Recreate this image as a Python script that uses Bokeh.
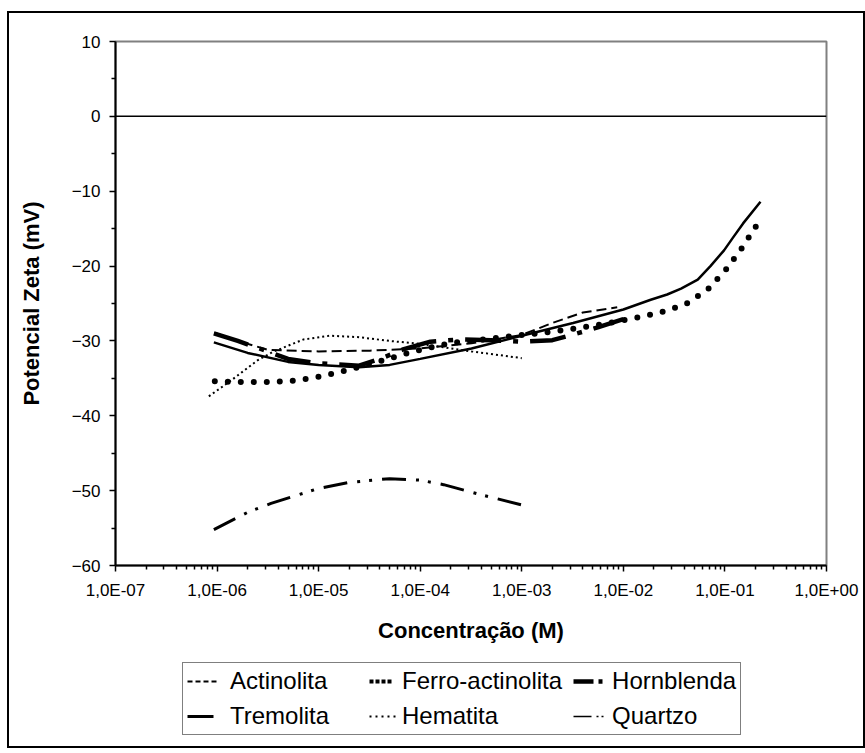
from bokeh.plotting import figure
from bokeh.layouts import column
from bokeh.models import Legend, LegendItem, FixedTicker, CustomJSTickFormatter, Span
from bokeh.embed import file_html
from bokeh.resources import INLINE

# Zeta potential (mV) versus electrolyte concentration (M) for each mineral
actinolita_c = [9.4e-7, 1.6e-6, 3.2e-6, 1.0e-5, 3.2e-5, 1.0e-4, 3.2e-4, 1.0e-3, 2.0e-3, 4.0e-3, 8.7e-3]
actinolita_mv = [-28.9, -30.0, -31.2, -31.4, -31.3, -31.0, -30.3, -29.2, -27.6, -26.2, -25.5]

ferro_c = [9.5e-7, 1.7e-6, 3.2e-6, 5.9e-6, 1.05e-5, 1.9e-5, 3.4e-5, 8.1e-5, 1.95e-4, 6.5e-4,
           2.2e-3, 5.4e-3, 1.26e-2, 2.3e-2, 4.1e-2, 6.8e-2, 0.102, 0.145, 0.204]
ferro_mv = [-35.4, -35.5, -35.5, -35.3, -34.75, -33.9, -33.0, -31.5, -30.3, -29.5,
            -28.7, -27.9, -27.0, -26.2, -25.1, -23.1, -20.5, -17.7, -14.6]

hornblenda_c = [9.3e-7, 1.6e-6, 2.6e-6, 5.0e-6, 1.0e-5, 2.5e-5, 4.2e-5, 6.9e-5, 1.26e-4, 2.5e-4,
                5.0e-4, 1.0e-3, 2.0e-3, 3.5e-3, 5.6e-3, 1.0e-2]
hornblenda_mv = [-29.0, -30.0, -31.0, -32.4, -33.0, -33.3, -32.3, -31.1, -30.1, -29.8,
                 -29.9, -30.1, -29.9, -29.0, -28.2, -27.1]

tremolita_c = [9.3e-7, 2.0e-6, 5.0e-6, 1.0e-5, 2.5e-5, 5.0e-5, 1.0e-4, 3.2e-4, 1.0e-3, 3.2e-3,
               1.0e-2, 1.86e-2, 2.7e-2, 3.7e-2, 5.4e-2, 7.2e-2, 9.8e-2, 0.12, 0.151, 0.224]
tremolita_mv = [-30.2, -31.6, -32.8, -33.2, -33.5, -33.2, -32.4, -31.0, -29.3, -27.6,
                -25.8, -24.5, -23.8, -23.0, -21.8, -20.0, -17.9, -16.2, -14.3, -11.4]

hematita_c = [8.3e-7, 1.4e-6, 2.5e-6, 3.5e-6, 7.1e-6, 1.3e-5, 2.5e-5, 5.0e-5, 1.0e-4, 3.2e-4, 1.0e-3]
hematita_mv = [-37.4, -35.2, -32.6, -31.5, -29.8, -29.3, -29.5, -30.0, -30.4, -31.4, -32.3]

quartzo_c = [9.3e-7, 2.0e-6, 3.4e-6, 1.0e-5, 2.0e-5, 5.0e-5, 1.0e-4, 1.7e-4, 3.6e-4, 1.0e-3]
quartzo_mv = [-55.2, -52.9, -51.7, -49.7, -48.9, -48.4, -48.6, -49.2, -50.4, -51.9]

x_ticks = [1e-7, 1e-6, 1e-5, 1e-4, 1e-3, 1e-2, 1e-1, 1.0]
x_tick_labels = ["1,0E-07", "1,0E-06", "1,0E-05", "1,0E-04", "1,0E-03", "1,0E-02", "1,0E-01", "1,0E+00"]
y_ticks = [-60, -50, -40, -30, -20, -10, 0, 10]
y_minor_ticks = [-55, -45, -35, -25, -15, -5, 5]

series_names = ["Actinolita", "Ferro-actinolita", "Hornblenda", "Tremolita", "Hematita", "Quartzo"]

FONT = "Liberation Sans"

p = figure(width=854, height=637, x_axis_type="log", x_range=(1e-7, 1.0), y_range=(-60, 10),
           output_backend="svg", toolbar_location=None,
           min_border_left=106, min_border_right=37, min_border_top=28, min_border_bottom=85,
           x_axis_label="Concentração (M)", y_axis_label="Potencial Zeta (mV)")

p.xgrid.visible = False
p.ygrid.visible = False
p.outline_line_color = "#808080"
p.outline_line_width = 2
p.background_fill_color = "white"
p.border_fill_color = "white"

x_minor = [k * d for d in x_ticks[:-1] for k in range(2, 10)]
p.xaxis.ticker = FixedTicker(ticks=x_ticks, minor_ticks=x_minor)
p.xaxis.formatter = CustomJSTickFormatter(
    args=dict(decades=x_ticks, names=x_tick_labels),
    code="""
let best = 0, d = Infinity;
for (let i = 0; i < decades.length; i++) {
  const e = Math.abs(Math.log10(decades[i]) - Math.log10(tick));
  if (e < d) { d = e; best = i; }
}
return names[best];
""")
p.yaxis.ticker = FixedTicker(ticks=y_ticks, minor_ticks=y_minor_ticks)

for ax in (p.xaxis[0], p.yaxis[0]):
    ax.axis_line_color = "black"
    ax.axis_line_width = 2
    ax.major_tick_line_color = "black"
    ax.minor_tick_line_color = "black"
    ax.major_tick_line_width = 1.5
    ax.minor_tick_line_width = 1.5
    ax.major_tick_in = 0
    ax.major_tick_out = 6
    ax.minor_tick_in = 0
    ax.minor_tick_out = 4
    ax.major_label_text_font = FONT
    ax.major_label_text_font_size = "17px"
    ax.major_label_text_color = "black"
    ax.axis_label_text_font = FONT
    ax.axis_label_text_font_size = "22px"
    ax.axis_label_text_font_style = "bold"
    ax.axis_label_text_color = "black"
    ax.major_label_standoff = 9

p.xaxis.axis_label_standoff = 15
p.yaxis.axis_label_standoff = 25

p.add_layout(Span(location=0, dimension="width", line_color="black", line_width=1.5))

# data curves
p.line(actinolita_c, actinolita_mv, line_color="black", line_width=2, line_dash="10 5")
p.line(ferro_c, ferro_mv, line_color="black", line_width=6, line_dash="0 13", line_cap="round")
p.line(hornblenda_c, hornblenda_mv, line_color="black", line_width=4.5, line_dash="36 12 5 12")
p.line(tremolita_c, tremolita_mv, line_color="black", line_width=2.5)
p.line(hematita_c, hematita_mv, line_color="black", line_width=2, line_dash="2 3")
p.line(quartzo_c, quartzo_mv, line_color="black", line_width=3, line_dash="24 10 3 9 3 10")

# legend strip under the plot, with compact key samples for each series
leg = figure(width=854, height=96, min_border=0, output_backend="svg", toolbar_location=None,
             x_axis_location=None, y_axis_location=None)
leg.grid.visible = False
leg.outline_line_color = None
leg.background_fill_color = "white"
leg.border_fill_color = "white"

# dash offsets leave a small lead-in gap before the keys of the 2nd and 3rd columns
key_styles = [
    dict(line_width=2, line_dash="5 3 5 3 5 3 5 40"),
    dict(line_width=4, line_dash="4 2 4 2 4 2 4 40", line_dash_offset=52),
    dict(line_width=4.5, line_dash="20 5 4 40", line_dash_offset=65),
    dict(line_width=3, line_dash="26 40"),
    dict(line_width=2, line_dash="2 4 2 4 2 4 2 4 2 40", line_dash_offset=56),
    dict(line_width=1.5, line_dash="18 5 2 3 2 40", line_dash_offset=66),
]
items = []
for name, st in zip(series_names, key_styles):
    r = leg.line(x=[0], y=[0], line_color="black", **st)
    items.append(LegendItem(label=name, renderers=[r]))

legend = Legend(items=items, ncols=3, orientation="horizontal", location=(67, 11))
legend.border_line_color = "black"
legend.border_line_width = 1.5
legend.background_fill_color = "white"
legend.label_text_font = FONT
legend.label_text_font_size = "24px"
legend.label_text_color = "black"
legend.glyph_width = 38
legend.glyph_height = 24
legend.label_height = 24
legend.label_width = 122
legend.label_standoff = 5
legend.padding = 4
legend.spacing = 7
legend.margin = 0
leg.add_layout(legend, "center")

page = column(p, leg, spacing=0,
              styles={"outline": "2px solid black", "margin-left": "9px", "margin-top": "13px"})

open("out.html", "w").write(file_html(page, INLINE))
